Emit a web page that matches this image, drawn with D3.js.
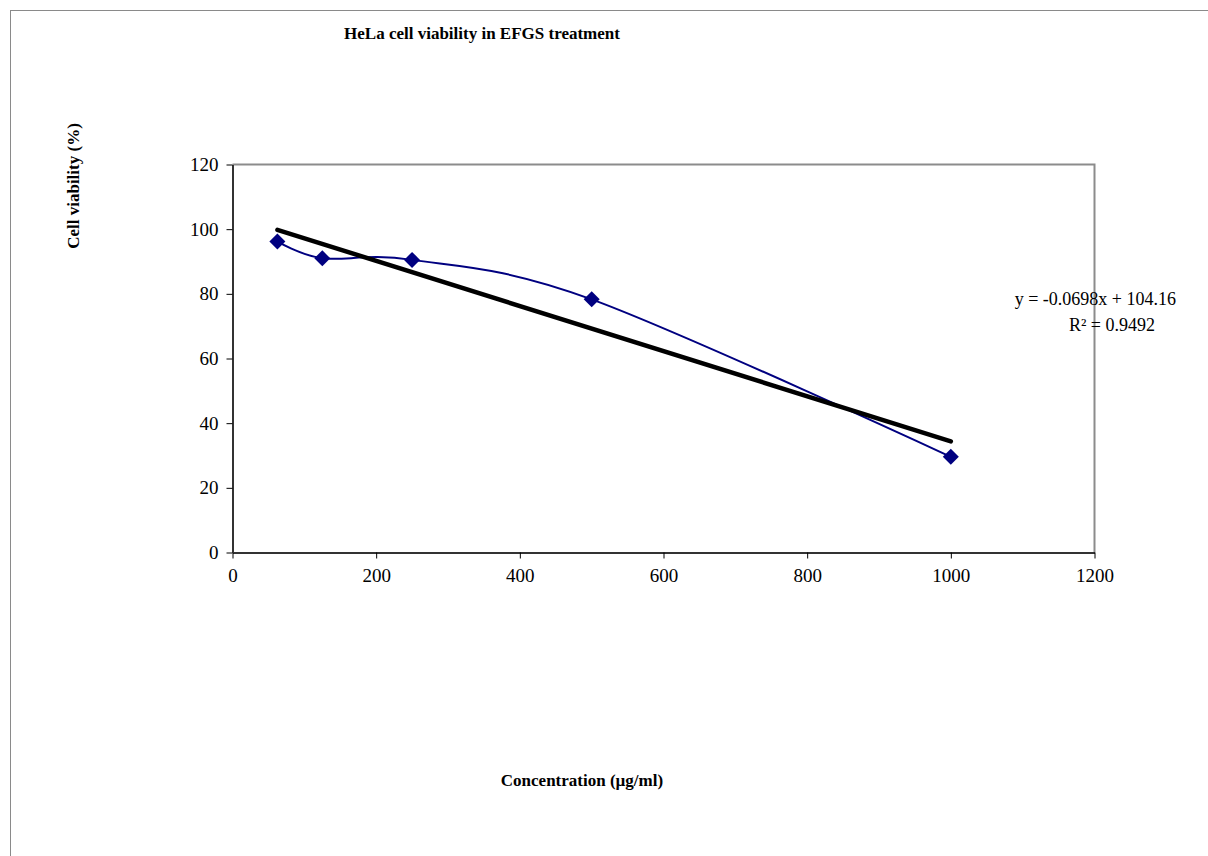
<!DOCTYPE html>
<html>
<head>
<meta charset="utf-8">
<script src="https://cdn.jsdelivr.net/npm/d3@7"></script>
<style>
  body { margin: 0; background: #fff; }
  svg { display: block; font-family: "Liberation Serif", "DejaVu Serif", serif; }
</style>
</head>
<body>
<svg width="1208" height="856"></svg>
<script>
// data
var conc = [62.5, 125, 250, 500, 1000];
var viability = [96.2, 91.0, 90.5, 78.3, 29.6];
var xTicks = [0, 200, 400, 600, 800, 1000, 1200];
var yTicks = [0, 20, 40, 60, 80, 100, 120];
var slope = -0.0698, intercept = 104.16;

var svg = d3.select("svg");
var pLeft = 232.5, pTop = 164.5, pRight = 1094.5, pBottom = 552.5;

// outer chart border
svg.append("rect").attr("x", 10.5).attr("y", 10.5).attr("width", 1300).attr("height", 1000)
  .style("fill", "none").style("stroke", "#8a8a8a");

var x = d3.scaleLinear().domain([0, 1200]).range([pLeft, pRight]);
var y = d3.scaleLinear().domain([0, 120]).range([pBottom, pTop]);

// plot area frame (top/right grey)
svg.append("path")
  .attr("d", "M" + pLeft + "," + pTop + "H" + pRight + "V" + pBottom)
  .style("fill", "none").style("stroke", "#8c8c8c").style("stroke-width", 2);

var xAxis = svg.append("g").attr("transform", "translate(0," + pBottom + ")")
  .call(d3.axisBottom(x).tickValues(xTicks).tickFormat(d3.format("d")).tickSize(6).tickSizeOuter(0).tickPadding(6));
var yAxis = svg.append("g").attr("transform", "translate(" + pLeft + ",0)")
  .call(d3.axisLeft(y).tickValues(yTicks).tickFormat(d3.format("d")).tickSize(6).tickSizeOuter(0).tickPadding(8));

[xAxis, yAxis].forEach(function(a) {
  a.select(".domain").style("stroke", "#333").style("stroke-width", 2);
  a.selectAll(".tick line").style("stroke", "#000");
  a.selectAll("text").style("font-family", "Liberation Serif, serif").style("font-size", "19px").style("fill", "#000");
});
xAxis.selectAll("text").attr("dy", "0.9em");

// smoothed series line
var line = d3.line()
  .x(function(d) { return x(d[0]); })
  .y(function(d) { return y(d[1]); })
  .curve(d3.curveCardinal.tension(0));
var pts = conc.map(function(c, i) { return [c, viability[i]]; });

svg.append("path").attr("d", line(pts))
  .style("fill", "none").style("stroke", "#000080").style("stroke-width", 2);

// linear trendline
var x0 = conc[0], x1 = conc[conc.length - 1];
svg.append("line")
  .attr("x1", x(x0)).attr("y1", y(slope * x0 + intercept))
  .attr("x2", x(x1)).attr("y2", y(slope * x1 + intercept))
  .style("stroke", "#000").style("stroke-width", 4.5).style("stroke-linecap", "round");

// diamond markers
svg.selectAll(".pt").data(pts).enter().append("path")
  .attr("class", "pt")
  .attr("transform", function(d) { return "translate(" + x(d[0]) + "," + y(d[1]) + ")"; })
  .attr("d", "M0,-8L8,0L0,8L-8,0Z")
  .style("fill", "#000080");

// titles
svg.append("text").attr("x", 482).attr("y", 39).attr("text-anchor", "middle")
  .style("font-size", "17px").style("font-weight", "bold").text("HeLa cell viability in EFGS treatment");
svg.append("text").attr("transform", "translate(79,186) rotate(-90)").attr("text-anchor", "middle")
  .style("font-size", "17px").style("font-weight", "bold").text("Cell viability (%)");
svg.append("text").attr("x", 582).attr("y", 786).attr("text-anchor", "middle")
  .style("font-size", "17px").style("font-weight", "bold").text("Concentration (µg/ml)");

// equation label
var eq = svg.append("g").style("font-size", "18px");
eq.append("text").attr("x", 1176).attr("y", 305).attr("text-anchor", "end")
  .text("y = -0.0698x + 104.16");
eq.append("text").attr("x", 1112).attr("y", 331).attr("text-anchor", "middle")
  .text("R² = 0.9492");
</script>
</body>
</html>
